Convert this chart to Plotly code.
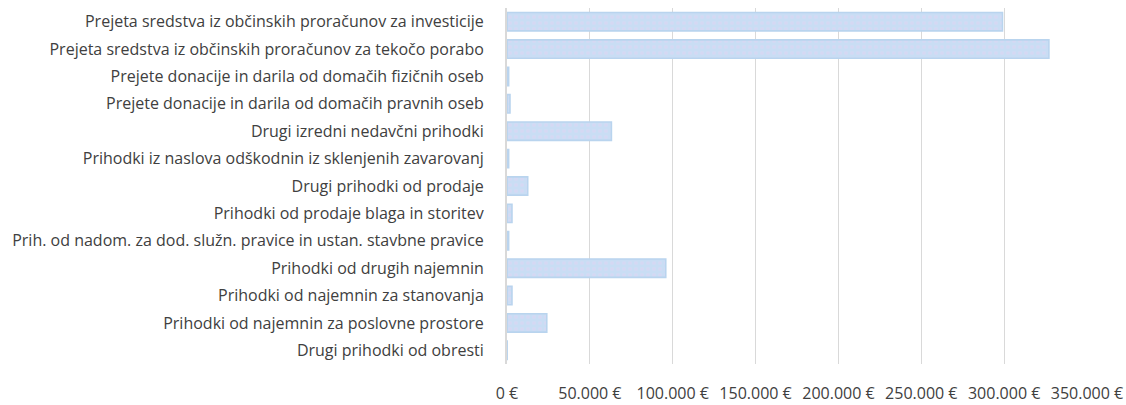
import plotly.graph_objects as go

categories = [
    "Prejeta sredstva iz občinskih proračunov za investicije",
    "Prejeta sredstva iz občinskih proračunov za tekočo porabo",
    "Prejete donacije in darila od domačih fizičnih oseb",
    "Prejete donacije in darila od domačih pravnih oseb",
    "Drugi izredni nedavčni prihodki",
    "Prihodki iz naslova odškodnin iz sklenjenih zavarovanj",
    "Drugi prihodki od prodaje",
    "Prihodki od prodaje blaga in storitev",
    "Prih. od nadom. za dod. služn. pravice in ustan. stavbne pravice",
    "Prihodki od drugih najemnin",
    "Prihodki od najemnin za stanovanja",
    "Prihodki od najemnin za poslovne prostore",
    "Drugi prihodki od obresti",
]
values = [299000, 327000, 1000, 1800, 63000, 1000, 12500, 3000, 1000, 95800, 3000, 24000, 100]
tick_vals = [0, 50000, 100000, 150000, 200000, 250000, 300000, 350000]
tick_text = ["0 €", "50.000 €", "100.000 €", "150.000 €", "200.000 €", "250.000 €", "300.000 €", "350.000 €"]

fig = go.Figure(go.Bar(
    x=values, y=categories, orientation="h",
    marker=dict(color="#c9ddf4", line=dict(color="#b9d4ee", width=1.6),
                pattern=dict(shape=".", fgcolor="#e2d4f2", size=6, solidity=0.3)),
))

fig.update_layout(
    width=1126, height=405,
    margin=dict(l=507, r=39, t=8, b=41),
    paper_bgcolor="white", plot_bgcolor="white",
    font=dict(family="Open Sans, sans-serif", size=16, color="#404040"),
    bargap=0.33,
    showlegend=False,
)
fig.update_xaxes(
    range=[0, 350000], tickvals=tick_vals, ticktext=tick_text,
    showgrid=True, gridcolor="#d9d9d9", gridwidth=1.3,
    zeroline=False, showline=False, ticks="", automargin=False,
    ticklabelstandoff=18, tickfont=dict(size=16, color="#404040"),
)
fig.update_yaxes(
    autorange="reversed", showgrid=False, showline=True, linecolor="#d9d9d9", linewidth=2,
    ticks="", automargin=False,
    ticklabelstandoff=18, tickfont=dict(size=16, color="#404040"),
)

fig.write_html("out.html", config={"displayModeBar": False},
               post_script="document.body.style.margin='0';")
